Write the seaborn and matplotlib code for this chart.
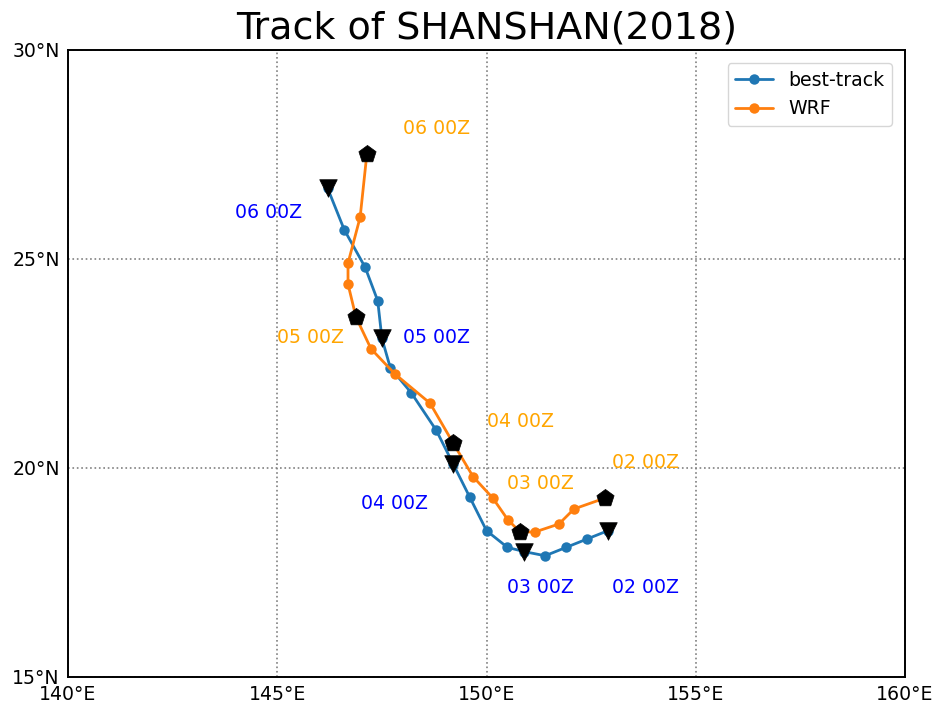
import matplotlib
matplotlib.use("Agg")
import matplotlib.pyplot as plt
import matplotlib.ticker as mticker
import numpy as np
import pandas as pd
import seaborn as sns

# 6-hourly positions, 02 00Z through 06 00Z
best_lon = [152.9, 152.4, 151.9, 151.4, 150.9, 150.5, 150.0, 149.6, 149.2,
            148.8, 148.2, 147.7, 147.5, 147.4, 147.1, 146.6, 146.2]
best_lat = [18.5, 18.3, 18.1, 17.9, 18.0, 18.1, 18.5, 19.3, 20.1,
            20.9, 21.8, 22.4, 23.1, 24.0, 24.8, 25.7, 26.7]
wrf_lon = [152.83, 152.09, 151.73, 151.16, 150.80, 150.51, 150.15, 149.68, 149.20,
           148.65, 147.81, 147.24, 146.88, 146.69, 146.69, 146.98, 147.14]
wrf_lat = [19.28, 19.02, 18.66, 18.47, 18.47, 18.76, 19.28, 19.79, 20.60,
           21.55, 22.25, 22.85, 23.61, 24.40, 24.90, 26.00, 27.51]

# daily labels (text anchor positions)
day_labels = ["02 00Z", "03 00Z", "04 00Z", "05 00Z", "06 00Z"]
best_label_lon = [153.0, 150.5, 147.0, 148.0, 144.0]
best_label_lat = [17.13, 17.13, 19.14, 23.13, 26.12]
wrf_label_lon = [153.0, 150.5, 150.0, 145.0, 148.0]
wrf_label_lat = [20.12, 19.62, 21.12, 23.13, 28.13]

lon_ticks = [140, 145, 150, 155, 160]
lat_ticks = [15, 20, 25, 30]

sns.set_style("white")
plt.rcParams["font.family"] = ["DejaVu Sans"]
plt.rcParams["text.color"] = "black"
plt.rcParams["xtick.color"] = "black"
plt.rcParams["ytick.color"] = "black"
plt.rcParams["axes.titlecolor"] = "black"

fig = plt.figure(figsize=(9.37, 7.08), dpi=100)
ax = fig.add_axes([0.0726, 0.0438, 0.8933, 0.8856])

best = pd.DataFrame({"lon": best_lon, "lat": best_lat})
wrf = pd.DataFrame({"lon": wrf_lon, "lat": wrf_lat})

sns.lineplot(data=best, x="lon", y="lat", sort=False, estimator=None, ax=ax,
             color="#1f77b4", marker="o", markersize=7.5, linewidth=2.0,
             markeredgecolor="#1f77b4", markeredgewidth=0, label="best-track")
sns.lineplot(data=wrf, x="lon", y="lat", sort=False, estimator=None, ax=ax,
             color="#ff7f0e", marker="o", markersize=7.5, linewidth=2.0,
             markeredgecolor="#ff7f0e", markeredgewidth=0, label="WRF")

# 00Z markers every fourth point
sns.scatterplot(data=best.iloc[::4], x="lon", y="lat", ax=ax, marker="v",
                s=160, color="black", edgecolor="black", linewidth=0.5,
                zorder=5, legend=False)
sns.scatterplot(data=wrf.iloc[::4], x="lon", y="lat", ax=ax, marker="p",
                s=170, color="black", edgecolor="black", linewidth=0.5,
                zorder=5, legend=False)

for txt, x, y in zip(day_labels, best_label_lon, best_label_lat):
    ax.text(x, y, txt, color="blue", fontsize=13.6, ha="left", va="center")
for txt, x, y in zip(day_labels, wrf_label_lon, wrf_label_lat):
    ax.text(x, y, txt, color="orange", fontsize=13.6, ha="left", va="center")

ax.set_xlim(140, 160)
ax.set_ylim(15, 30)
ax.set_xticks(lon_ticks)
ax.set_yticks(lat_ticks)
ax.xaxis.set_major_formatter(mticker.FuncFormatter(lambda v, p: f"{int(v)}°E"))
ax.yaxis.set_major_formatter(mticker.FuncFormatter(lambda v, p: f"{int(v)}°N"))
ax.tick_params(axis="both", length=0, labelsize=13.6, pad=6, colors="black")
ax.set_xlabel("")
ax.set_ylabel("")

ax.grid(True, color="gray", linestyle=":", linewidth=1.2)
ax.set_axisbelow(True)
for sp in ax.spines.values():
    sp.set_color("black")
    sp.set_linewidth(1.4)
    sp.set_zorder(6)

ax.set_title("Track of SHANSHAN(2018)", fontsize=27.4, pad=8, color="black")

leg = ax.legend(loc="upper right", fontsize=13.6, frameon=True,
                borderaxespad=0.7)
leg.get_frame().set_edgecolor("#cccccc")
for t in leg.get_texts():
    t.set_color("black")

fig.savefig("out.png", dpi=100)
